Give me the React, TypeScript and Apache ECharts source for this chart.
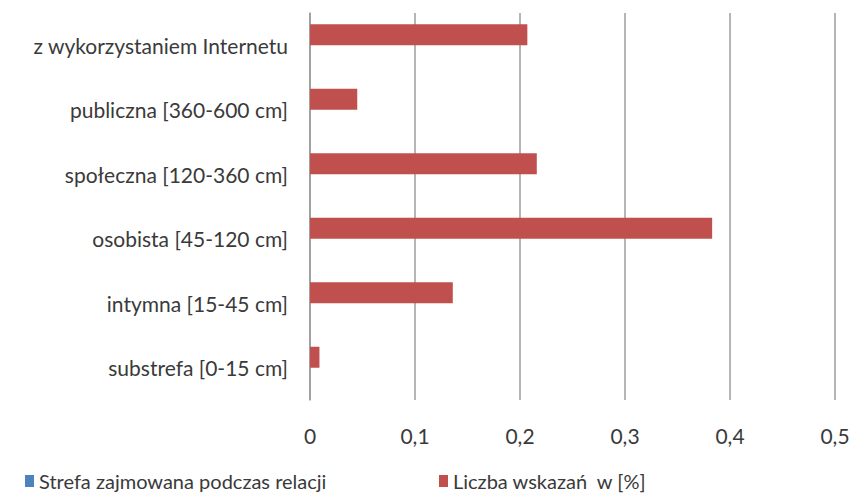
import React, { useEffect, useRef } from "react";
import * as echarts from "echarts";

const categories = [
  "substrefa [0-15 cm]",
  "intymna [15-45 cm]",
  "osobista [45-120 cm]",
  "społeczna [120-360 cm]",
  "publiczna [360-600 cm]",
  "z wykorzystaniem Internetu",
];
const liczbaWskazan = [0.009, 0.136, 0.383, 0.216, 0.045, 0.207];
const strefa: (number | null)[] = [null, null, null, null, null, null];
const seriesNames = ["Strefa zajmowana podczas relacji", "Liczba wskazań  w [%]"];
const FONT = "Lato";

export default function App() {
  const ref = useRef<HTMLDivElement>(null);
  useEffect(() => {
    document.body.style.margin = "0";
    const chart = echarts.init(ref.current!, null, { renderer: "svg" });
    chart.setOption({
      animation: false,
      backgroundColor: "#ffffff",
      textStyle: { fontFamily: FONT },
      grid: { left: 310, right: 20, top: 13, bottom: 93, containLabel: false },
      xAxis: {
        type: "value",
        min: 0,
        max: 0.5,
        interval: 0.1,
        axisLine: { show: false },
        axisTick: { show: false },
        splitLine: { show: true, lineStyle: { color: "#9c9c9c", width: 1.5 } },
        axisLabel: {
          margin: 25,
          fontSize: 21,
          color: "#3a3a3a",
          fontFamily: FONT,
          formatter: (v: number) => String(Math.round(v * 10) / 10).replace(".", ","),
        },
      },
      yAxis: {
        type: "category",
        data: categories,
        axisLine: { show: true, lineStyle: { color: "#9c9c9c", width: 1.5 } },
        axisTick: { show: false },
        splitLine: { show: false },
        axisLabel: { margin: 22, fontSize: 21, color: "#3a3a3a", fontFamily: FONT },
      },
      legend: [
        {
          data: [seriesNames[0]],
          left: 20,
          top: 466,
          icon: "rect",
          itemWidth: 9,
          itemHeight: 12,
          textStyle: { fontSize: 20, color: "#3a3a3a", fontFamily: FONT },
        },
        {
          data: [seriesNames[1]],
          left: 434,
          top: 466,
          icon: "rect",
          itemWidth: 9,
          itemHeight: 12,
          textStyle: { fontSize: 20, color: "#3a3a3a", fontFamily: FONT },
        },
      ],
      series: [
        {
          name: seriesNames[1],
          type: "bar",
          data: liczbaWskazan,
          barWidth: 21,
          barGap: "0%",
          itemStyle: { color: "#C0504D" },
        },
        {
          name: seriesNames[0],
          type: "bar",
          data: strefa,
          barWidth: 21,
          barGap: "0%",
          itemStyle: { color: "#4F81BD" },
        },
      ],
    });
    return () => chart.dispose();
  }, []);
  return (
    <div
      ref={ref}
      style={{ position: "absolute", left: 0, top: 0, width: 855, height: 493 }}
    />
  );
}
